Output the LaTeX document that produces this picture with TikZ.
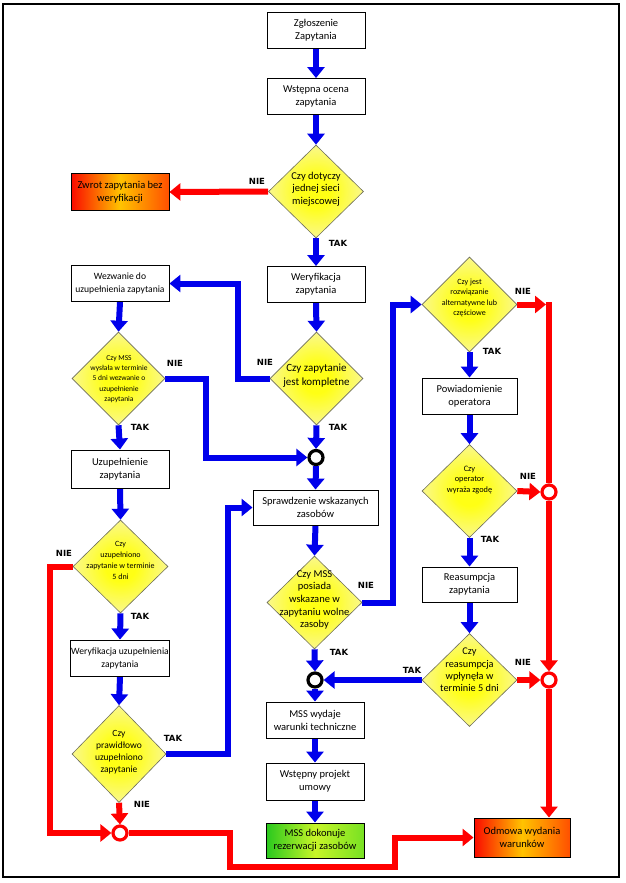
\documentclass[tikz,border=0pt]{standalone}
\usepackage{fontspec}
\usetikzlibrary{shapes.geometric,arrows.meta}
\newfontfamily\carl{Carlito}
\newfontfamily\labfont{DejaVu Sans}
\newcommand\setfs[2]{\fontsize{#1}{#2}\selectfont}
\definecolor{fblue}{RGB}{0,0,235}
\definecolor{fred}{RGB}{255,0,0}
\definecolor{dyel}{RGB}{255,255,20}
\definecolor{dmid}{RGB}{250,248,140}
\definecolor{dpale}{RGB}{238,236,200}
\definecolor{hred}{RGB}{250,10,0}
\definecolor{horange}{RGB}{255,195,0}
\definecolor{hred2}{RGB}{255,80,0}
\definecolor{ggreen}{RGB}{40,200,30}
\definecolor{glight}{RGB}{200,245,40}
\definecolor{gmid}{RGB}{120,225,35}
\definecolor{dborder}{RGB}{110,110,90}
\pgfdeclareradialshading{dshade}{\pgfpoint{0bp}{0bp}}{color(0bp)=(dyel); color(8bp)=(dyel); color(25bp)=(dmid); color(36bp)=(dpale); color(50bp)=(dpale)}
\pgfdeclarelayer{lines}
\pgfsetlayers{lines,main}
\begin{document}
\begin{tikzpicture}[x=1pt,y=-1pt,
  box/.style={draw=black, line width=0.9pt, fill=white, minimum width=98pt, minimum height=36pt,
    inner sep=1pt, align=center, font=\carl\setfs{10.5}{13}},
  hot/.style={box, left color=hred, right color=hred2, middle color=horange},
  grn/.style={box, left color=ggreen, right color=gmid, middle color=glight},
  dia/.style={diamond, draw=dborder, line width=0.6pt, shading=dshade, minimum width=95pt,
    minimum height=93pt, inner sep=0pt},
  dtext/.style={align=center, inner sep=0pt},
  circ/.style={circle, draw=black, fill=white, line width=3.2pt, minimum size=14pt, inner sep=0pt},
  rcirc/.style={circ, draw=fred},
  lab/.style={font=\labfont\bfseries\setfs{8.5}{10}, inner sep=0pt},
  barrow/.style={draw=fblue, line width=6pt, -{Triangle[width=17pt,length=11pt]}},
  rarrow/.style={draw=fred, line width=6pt, -{Triangle[width=17pt,length=11pt]}},
  rline/.style={draw=fred, line width=6pt}
]
\useasboundingbox (0,0) rectangle (626,883);
\draw[line width=1.4pt] (3,4) rectangle (619,877);

% middle column
\node[box] (b1) at (316,30) {Zgłoszenie\\Zapytania};
\node[box] (b2) at (316,96.5) {Wstępna ocena\\zapytania};
\node[dia] (d1) at (316,191.5) {};
\node[dtext, font=\carl\setfs{10.5}{12.5}] (d1t) at (316,189) {Czy dotyczy\\jednej sieci\\miejscowej};
\node[hot, minimum height=37pt] (zw) at (120,192) {Zwrot zapytania bez\\weryfikacji};
\node[box] (b3) at (316,284.5) {Weryfikacja\\zapytania};
\node[dia, minimum width=93pt] (d2) at (316.5,378.5) {};
\node[dtext, font=\carl\setfs{11}{14}] (d2t) at (316.5,376) {Czy zapytanie\\jest kompletne};
\node[circ] (c1) at (316,457.5) {};
\node[box, minimum width=125pt, minimum height=35pt] (spr) at (315.5,507.5) {Sprawdzenie wskazanych\\zasobów};
\node[dia] (d4) at (314.5,602.5) {};
\node[dtext, font=\carl\setfs{10.5}{12.6}] (d4t) at (314.5,600) {Czy MSS\\posiada\\wskazane w\\zapytaniu wolne\\zasoby};
\node[circ] (c2) at (315,680) {};
\node[box] (mss) at (315,720) {MSS wydaje\\warunki techniczne};
\node[box, minimum height=37pt] (wst) at (315,781.5) {Wstępny projekt\\umowy};
\node[grn, minimum height=35pt] (rez) at (315,840.5) {MSS dokonuje\\rezerwacji zasobów};

% left column
\node[box, font=\carl\setfs{9.6}{13}] (wez) at (120,283.5) {Wezwanie do\\uzupełnienia zapytania};
\node[dia, minimum width=93pt] (d3) at (118.5,378.5) {};
\node[dtext, font=\carl\setfs{7.5}{10.2}] (d3t) at (119,379) {Czy MSS\\wysłała w terminie\\5 dni wezwanie o\\uzupełnienie\\zapytania};
\node[box, minimum height=38pt] (uzu) at (120,469) {Uzupełnienie\\zapytania};
\node[dia] (d3b) at (120.5,566.5) {};
\node[dtext, font=\carl\setfs{8}{11}] (d3bt) at (120.5,560) {Czy\\uzupełniono\\zapytanie w terminie\\5 dni};
\node[box, font=\carl\setfs{9.6}{13}] (wer2) at (120,658) {Weryfikacja uzupełnienia\\zapytania};
\node[dia, minimum width=94pt, minimum height=97pt] (d5) at (119,754) {};
\node[dtext, font=\carl\setfs{9.5}{12}] (d5t) at (119,752) {Czy\\prawidłowo\\uzupełniono\\zapytanie};
\node[rcirc] (rc3) at (120,833) {};

% right column
\node[dia, minimum height=95pt] (d6) at (469.5,304.5) {};
\node[dtext, font=\carl\setfs{8}{10.5}] (d6t) at (469.5,298) {Czy jest\\rozwiązanie\\alternatywne lub\\częściowe};
\node[box, minimum width=95pt] (pow) at (469.5,396) {Powiadomienie\\operatora};
\node[dia] (d7) at (469.5,491) {};
\node[dtext, font=\carl\setfs{8.3}{10.5}] (d7t) at (469.5,480) {Czy\\operator\\wyraża zgodę};
\node[box, minimum width=95pt, minimum height=35pt] (rea) at (469.5,584.5) {Reasumpcja\\zapytania};
\node[dia] (d8) at (469.5,680) {};
\node[dtext, font=\carl\setfs{10.3}{12.4}] (d8t) at (469.5,670) {Czy\\reasumpcja\\wpłynęła w\\terminie 5 dni};
\node[hot, minimum width=96pt, minimum height=39pt] (odm) at (522,837.5) {Odmowa wydania\\warunków};
\node[rcirc] (rc1) at (549,492) {};
\node[rcirc] (rc2) at (549,680) {};

% labels
\node[lab] (l1) at (257,181) {NIE};
\node[lab] (l2) at (338,243) {TAK};
\node[lab] (l3) at (265,362) {NIE};
\node[lab] (l4) at (338,427) {TAK};
\node[lab] (l5) at (175,363) {NIE};
\node[lab] (l6) at (140,427) {TAK};
\node[lab] (l7) at (64,553) {NIE};
\node[lab] (l8) at (140,616) {TAK};
\node[lab] (l9) at (173,738) {TAK};
\node[lab] (l10) at (142,804) {NIE};
\node[lab] (l11) at (366,585) {NIE};
\node[lab] (l12) at (339,652) {TAK};
\node[lab] (l13) at (523,291) {NIE};
\node[lab] (l14) at (492,351) {TAK};
\node[lab] (l15) at (528,476) {NIE};
\node[lab] (l16) at (490,539) {TAK};
\node[lab] (l17) at (523,662) {NIE};
\node[lab] (l18) at (412,670) {TAK};

% helper points
\coordinate (k1) at (230,867);
\coordinate (k2) at (395,867);
\coordinate (k3) at (50,566.5);
\coordinate (k4) at (549,302);
\coordinate (k5) at (546,304.5);

\begin{pgfonlayer}{lines}
  \draw[barrow] (b1.south) -- (b2.north);
  \draw[barrow] (b2.south) -- (d1.north);
  \draw[rarrow] (d1.west) -- (zw.east);
  \draw[barrow] (d1.south) -- (b3.north);
  \draw[barrow] (b3.south) -- (d2.north);
  \draw[barrow] (d2.west) -- ++(-32,0) |- (wez.east);
  \draw[barrow] (wez.south) -- (d3.north);
  \draw[barrow] (d3.east) -- ++(41,0) |- (c1.west);
  \draw[barrow] (d2.south) -- (c1.north);
  \draw[barrow] (c1.south) -- (spr.north);
  \draw[barrow] (d3.south) -- (uzu.north);
  \draw[barrow] (uzu.south) -- (d3b.north);
  \draw[rarrow] (d3b.west) -- (k3) |- (rc3.west);
  \draw[barrow] (d3b.south) -- (wer2.north);
  \draw[barrow] (wer2.south) -- (d5.north);
  \draw[barrow] (d5.east) -- ++(62,0) |- (spr.west);
  \draw[rarrow] (d5.south) -- (rc3.north);
  \draw[rarrow] (rc3.east) -| (k1) -- (k2) |- (odm.west);
  \draw[barrow] (spr.south) -- (d4.north);
  \draw[barrow] (d4.east) -- ++(31,0) |- (d6.west);
  \draw[barrow] (d4.south) -- (c2.north);
  \draw[barrow] (c2.south) -- (mss.north);
  \draw[barrow] (mss.south) -- (wst.north);
  \draw[barrow] (wst.south) -- (rez.north);
  \draw[rarrow] (d6.east) -- (k5);
  \draw[rline] (k4) -- (rc1.north);
  \draw[rarrow] (rc1.south) -- (rc2.north);
  \draw[rarrow] (rc2.south) -- (rc2 |- odm.north);
  \draw[barrow] (d6.south) -- (pow.north);
  \draw[barrow] (pow.south) -- (d7.north);
  \draw[rarrow] (d7.east) -- (rc1.west);
  \draw[barrow] (d7.south) -- (rea.north);
  \draw[barrow] (rea.south) -- (d8.north);
  \draw[rarrow] (d8.east) -- (rc2.west);
  \draw[barrow] (d8.west) -- (c2.east);
\end{pgfonlayer}
\end{tikzpicture}
\end{document}
